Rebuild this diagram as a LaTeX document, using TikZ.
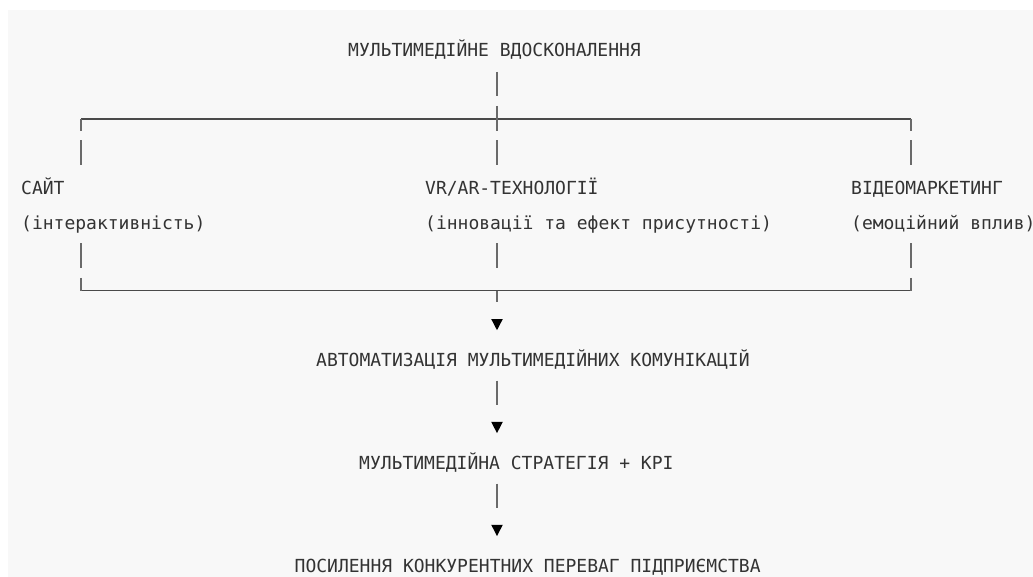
\documentclass[tikz,border=0pt]{standalone}
\usepackage{fontspec}
\newfontfamily\dvmono{DejaVu Sans Mono}
\usetikzlibrary{calc}
\definecolor{bg}{HTML}{F8F8F8}
\definecolor{txt}{HTML}{333333}
\definecolor{ln}{HTML}{4A4A4A}
\definecolor{vl}{HTML}{6A6A6A}
\begin{document}
\begin{tikzpicture}[x=1pt,y=-1pt,
  lbl/.style={anchor=base west,inner sep=0pt,font=\dvmono\fontsize{18}{20}\selectfont,text=txt},
  bar/.style={draw=vl,line width=2pt},
  rule/.style={draw=ln,line width=1.1pt},
  tip/.style={fill=black}]
\fill[white] (0,0) rectangle (1033,577);
\fill[bg] (8,10) rectangle (1033,577);
\useasboundingbox (0,0) rectangle (1033,577);

% texts
\node[lbl] (top) at (348,57) {МУЛЬТИМЕДІЙНЕ ВДОСКОНАЛЕННЯ};
\node[lbl] (site) at (21,195) {САЙТ};
\node[lbl] (siteb) at (21,229.3) {(інтерактивність)};
\node[lbl] (vr) at (425,195) {VR/AR-ТЕХНОЛОГІЇ};
\node[lbl] (vrb) at (425,229.3) {(інновації та ефект присутності)};
\node[lbl] (video) at (851,195) {ВІДЕОМАРКЕТИНГ};
\node[lbl] (videob) at (851,229.3) {(емоційний вплив)};
\node[lbl] (auto) at (316,366.8) {АВТОМАТИЗАЦІЯ МУЛЬТИМЕДІЙНИХ КОМУНІКАЦІЙ};
\node[lbl] (strat) at (359,469.7) {МУЛЬТИМЕДІЙНА СТРАТЕГІЯ + KPI};
\node[lbl] (final) at (294.5,572.6) {ПОСИЛЕННЯ КОНКУРЕНТНИХ ПЕРЕВАГ ПІДПРИЄМСТВА};

% junctions
\coordinate (jl) at (81,119);
\coordinate (jc) at (497,119);
\coordinate (jr) at (911,119);
\coordinate (bl) at (81,290.7);
\coordinate (bc) at (497,290.7);
\coordinate (br) at (911,290.7);
\coordinate (a1) at (497,324.2);
\coordinate (a2) at (497,427.1);
\coordinate (a3) at (497,530);

% top bracket
\draw[bar] ($(jc)+(0,-47.2)$) -- ($(jc)+(0,-22.8)$);
\draw[rule] (jl) -- (jr);
\draw[bar] ($(jc)+(0,-13)$) -- ($(jc)+(0,12)$);
\draw[bar] (jl) -- ($(jl)+(0,12)$);
\draw[bar] (jr) -- ($(jr)+(0,12)$);
\foreach \p in {jl,jc,jr}{
  \draw[bar] ($(\p)+(0,21.4)$) -- ($(\p)+(0,45.8)$);
}
% bottom bracket
\foreach \p in {bl,bc,br}{
  \draw[bar] ($(\p)+(0,-47.3)$) -- ($(\p)+(0,-22.9)$);
}
\draw[rule] (bl) -- (br);
\draw[bar] ($(bl)+(0,-12.7)$) -- (bl);
\draw[bar] ($(br)+(0,-12.7)$) -- (br);
\draw[bar] (bc) -- ($(bc)+(0,11.3)$);

% chain
\foreach \p in {a1,a2,a3}{
  \fill[tip] ($(\p)+(-5.8,-5.2)$) -- ($(\p)+(5.8,-5.2)$) -- ($(\p)+(0,6)$) -- cycle;
}
\draw[bar] ($(a2)+(0,-46.5)$) -- ($(a2)+(0,-22.1)$);
\draw[bar] ($(a3)+(0,-46.5)$) -- ($(a3)+(0,-22.1)$);
\end{tikzpicture}
\end{document}
